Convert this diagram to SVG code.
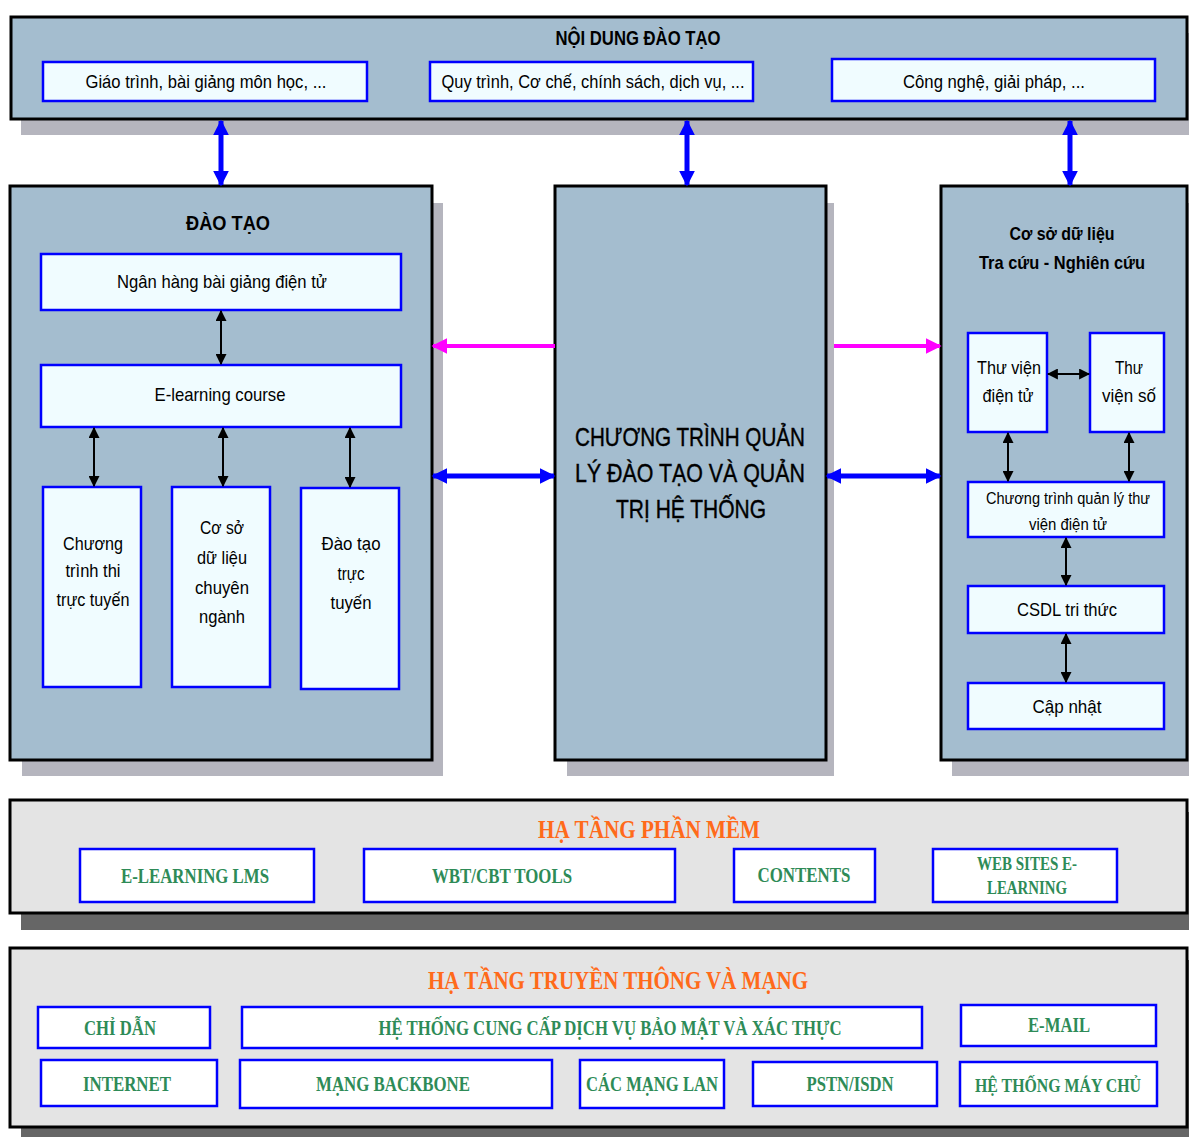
<svg xmlns="http://www.w3.org/2000/svg" width="1189" height="1137" viewBox="0 0 1189 1137">
<style>
.panel{fill:#a4bdcf;stroke:#000;stroke-width:3}
.shadow{fill:#b5b5be}
.dshadow{fill:#666}
.gpanel{fill:#e4e4e4;stroke:#000;stroke-width:3}
.box{fill:#f0fcff;stroke:#0000ff;stroke-width:2.5}
.wbox{fill:#fff;stroke:#0000ff;stroke-width:2.5}
.t{font-family:"Liberation Sans",Arial,sans-serif;fill:#000;text-anchor:middle}
.tb{font-family:"Liberation Sans",Arial,sans-serif;font-weight:bold;fill:#000;text-anchor:middle}
.ot{font-family:"Liberation Serif","Times New Roman",serif;font-weight:bold;fill:#ff6a1a;text-anchor:middle}
.gt{font-family:"Liberation Serif","Times New Roman",serif;font-weight:bold;fill:#2e8b57;text-anchor:middle}
.ba{stroke:#0000ff;stroke-width:5;fill:none}
.ka{stroke:#000;stroke-width:2;fill:none}
.ma{stroke:#ff00ff;stroke-width:4;fill:none}
</style>
<defs>
<marker id="hb" viewBox="0 0 10 10" refX="9" refY="5" markerWidth="16" markerHeight="16" markerUnits="userSpaceOnUse" orient="auto-start-reverse"><path d="M0,0 L10,5 L0,10 Z" fill="#0000ff"/></marker>
<marker id="hk" viewBox="0 0 10 10" refX="9" refY="5" markerWidth="11" markerHeight="11" markerUnits="userSpaceOnUse" orient="auto-start-reverse"><path d="M0,0 L10,5 L0,10 Z" fill="#000"/></marker>
<marker id="hm" viewBox="0 0 10 10" refX="9" refY="5" markerWidth="16" markerHeight="16" markerUnits="userSpaceOnUse" orient="auto-start-reverse"><path d="M0,0 L10,5 L0,10 Z" fill="#ff00ff"/></marker>
</defs>
<rect width="1189" height="1137" fill="#fff"/>

<g id="noi-dung">
<rect class="shadow" x="21" y="33" width="1176" height="102"/>
<rect class="panel" x="11" y="17" width="1176" height="102"/>
<text class="tb" x="638" y="45" font-size="20" textLength="165" lengthAdjust="spacingAndGlyphs">NỘI DUNG ĐÀO TẠO</text>
<g id="giao-trinh"><rect class="box" x="43" y="62" width="324" height="39"/>
<text class="t" x="206" y="88" font-size="19" textLength="241" lengthAdjust="spacingAndGlyphs">Giáo trình, bài giảng môn học, ...</text></g>
<g id="quy-trinh"><rect class="box" x="430" y="62" width="323" height="39"/>
<text class="t" x="593" y="88" font-size="19" textLength="303" lengthAdjust="spacingAndGlyphs">Quy trình, Cơ chế, chính sách, dịch vụ, ...</text></g>
<g id="cong-nghe"><rect class="box" x="832" y="59" width="323" height="42"/>
<text class="t" x="994" y="88" font-size="19" textLength="182" lengthAdjust="spacingAndGlyphs">Công nghệ, giải pháp, ...</text></g>
</g>

<g id="dao-tao">
<rect class="shadow" x="22" y="203" width="421" height="573"/>
<rect class="panel" x="10" y="186" width="422" height="574"/>
<text class="tb" x="228" y="230" font-size="21" textLength="84" lengthAdjust="spacingAndGlyphs">ĐÀO TẠO</text>
<g id="ngan-hang"><rect class="box" x="41" y="254" width="360" height="56"/>
<text class="t" x="222" y="288" font-size="19" textLength="210" lengthAdjust="spacingAndGlyphs">Ngân hàng bài giảng điện tử</text></g>
<g id="elearning-course"><rect class="box" x="41" y="365" width="360" height="62"/>
<text class="t" x="220" y="401" font-size="19" textLength="131" lengthAdjust="spacingAndGlyphs">E-learning course</text></g>
<g id="thi-truc-tuyen"><rect class="box" x="43" y="487" width="98" height="200"/>
<text class="t" font-size="19"><tspan x="93" y="550" textLength="60" lengthAdjust="spacingAndGlyphs">Chương</tspan><tspan x="93" y="577" textLength="55" lengthAdjust="spacingAndGlyphs">trình thi</tspan><tspan x="93" y="606" textLength="73" lengthAdjust="spacingAndGlyphs">trực tuyến</tspan></text></g>
<g id="csdl-chuyen-nganh"><rect class="box" x="172" y="487" width="98" height="200"/>
<text class="t" font-size="19"><tspan x="222" y="534" textLength="44" lengthAdjust="spacingAndGlyphs">Cơ sở</tspan><tspan x="222" y="564" textLength="50" lengthAdjust="spacingAndGlyphs">dữ liệu</tspan><tspan x="222" y="594" textLength="54" lengthAdjust="spacingAndGlyphs">chuyên</tspan><tspan x="222" y="623" textLength="46" lengthAdjust="spacingAndGlyphs">ngành</tspan></text></g>
<g id="dao-tao-truc-tuyen"><rect class="box" x="301" y="488" width="98" height="201"/>
<text class="t" font-size="19"><tspan x="351" y="550" textLength="59" lengthAdjust="spacingAndGlyphs">Đào tạo</tspan><tspan x="351" y="580" textLength="27" lengthAdjust="spacingAndGlyphs">trực</tspan><tspan x="351" y="609" textLength="41" lengthAdjust="spacingAndGlyphs">tuyến</tspan></text></g>
</g>

<g id="chuong-trinh-quan-ly">
<rect class="shadow" x="567" y="203" width="267" height="573"/>
<rect class="panel" x="555" y="186" width="271" height="574"/>
<text class="t" font-size="25" stroke="#000" stroke-width="0.4"><tspan x="690" y="446" textLength="230" lengthAdjust="spacingAndGlyphs">CHƯƠNG TRÌNH QUẢN</tspan><tspan x="690" y="482" textLength="230" lengthAdjust="spacingAndGlyphs">LÝ ĐÀO TẠO VÀ QUẢN</tspan><tspan x="691" y="518" textLength="150" lengthAdjust="spacingAndGlyphs">TRỊ HỆ THỐNG</tspan></text>
</g>

<g id="co-so-du-lieu">
<rect class="shadow" x="952" y="203" width="237" height="573"/>
<rect class="panel" x="941" y="186" width="246" height="574"/>
<text class="tb" font-size="19"><tspan x="1062" y="240" textLength="105" lengthAdjust="spacingAndGlyphs">Cơ sở dữ liệu</tspan><tspan x="1062" y="269" textLength="166" lengthAdjust="spacingAndGlyphs">Tra cứu - Nghiên cứu</tspan></text>
<g id="thu-vien-dien-tu"><rect class="box" x="968" y="333" width="79" height="99"/>
<text class="t" font-size="19"><tspan x="1009" y="374" textLength="64" lengthAdjust="spacingAndGlyphs">Thư viện</tspan><tspan x="1008" y="402" textLength="51" lengthAdjust="spacingAndGlyphs">điện tử</tspan></text></g>
<g id="thu-vien-so"><rect class="box" x="1090" y="333" width="74" height="99"/>
<text class="t" font-size="19"><tspan x="1129" y="374" textLength="28" lengthAdjust="spacingAndGlyphs">Thư</tspan><tspan x="1129" y="402" textLength="54" lengthAdjust="spacingAndGlyphs">viện số</tspan></text></g>
<g id="quan-ly-thu-vien"><rect class="box" x="968" y="482" width="196" height="55"/>
<text class="t" font-size="16"><tspan x="1068" y="504" textLength="164" lengthAdjust="spacingAndGlyphs">Chương trình quản lý thư</tspan><tspan x="1068" y="530" textLength="78" lengthAdjust="spacingAndGlyphs">viện điện tử</tspan></text></g>
<g id="csdl-tri-thuc"><rect class="box" x="968" y="586" width="196" height="47"/>
<text class="t" x="1067" y="616" font-size="19" textLength="100" lengthAdjust="spacingAndGlyphs">CSDL tri thức</text></g>
<g id="cap-nhat"><rect class="box" x="968" y="683" width="196" height="46"/>
<text class="t" x="1067" y="713" font-size="19" textLength="69" lengthAdjust="spacingAndGlyphs">Cập nhật</text></g>
</g>

<g id="ha-tang-phan-mem">
<rect class="dshadow" x="21" y="812" width="1176" height="118"/>
<rect class="gpanel" x="10" y="800" width="1177" height="113"/>
<text class="ot" x="649" y="838" font-size="25" textLength="222" lengthAdjust="spacingAndGlyphs">HẠ TẦNG PHẦN MỀM</text>
<g id="lms"><rect class="wbox" x="80" y="849" width="234" height="53"/>
<text class="gt" x="195" y="883" font-size="22" textLength="148" lengthAdjust="spacingAndGlyphs">E-LEARNING LMS</text></g>
<g id="wbt"><rect class="wbox" x="364" y="849" width="311" height="53"/>
<text class="gt" x="502" y="883" font-size="22" textLength="140" lengthAdjust="spacingAndGlyphs">WBT/CBT TOOLS</text></g>
<g id="contents"><rect class="wbox" x="734" y="849" width="141" height="53"/>
<text class="gt" x="804" y="882" font-size="22" textLength="93" lengthAdjust="spacingAndGlyphs">CONTENTS</text></g>
<g id="websites"><rect class="wbox" x="933" y="849" width="184" height="53"/>
<text class="gt" font-size="19"><tspan x="1027" y="870" textLength="100" lengthAdjust="spacingAndGlyphs">WEB SITES E-</tspan><tspan x="1027" y="894" textLength="80" lengthAdjust="spacingAndGlyphs">LEARNING</tspan></text></g>
</g>

<g id="ha-tang-mang">
<rect class="dshadow" x="21" y="960" width="1176" height="190"/>
<rect class="gpanel" x="10" y="948" width="1177" height="179"/>
<text class="ot" x="618" y="989" font-size="25" textLength="380" lengthAdjust="spacingAndGlyphs">HẠ TẦNG TRUYỀN THÔNG VÀ MẠNG</text>
<g id="chi-dan"><rect class="wbox" x="38" y="1007" width="172" height="41"/>
<text class="gt" x="120" y="1035" font-size="22" textLength="72" lengthAdjust="spacingAndGlyphs">CHỈ DẪN</text></g>
<g id="bao-mat"><rect class="wbox" x="242" y="1007" width="680" height="41"/>
<text class="gt" x="610" y="1035" font-size="22" textLength="463" lengthAdjust="spacingAndGlyphs">HỆ THỐNG CUNG CẤP DỊCH VỤ BẢO MẬT VÀ XÁC THỰC</text></g>
<g id="email"><rect class="wbox" x="961" y="1005" width="195" height="41"/>
<text class="gt" x="1059" y="1032" font-size="22" textLength="62" lengthAdjust="spacingAndGlyphs">E-MAIL</text></g>
<g id="internet"><rect class="wbox" x="41" y="1060" width="176" height="46"/>
<text class="gt" x="127" y="1091" font-size="22" textLength="88" lengthAdjust="spacingAndGlyphs">INTERNET</text></g>
<g id="backbone"><rect class="wbox" x="240" y="1060" width="312" height="48"/>
<text class="gt" x="393" y="1091" font-size="22" textLength="154" lengthAdjust="spacingAndGlyphs">MẠNG BACKBONE</text></g>
<g id="lan"><rect class="wbox" x="580" y="1060" width="144" height="48"/>
<text class="gt" x="652" y="1091" font-size="21" textLength="132" lengthAdjust="spacingAndGlyphs">CÁC MẠNG LAN</text></g>
<g id="pstn"><rect class="wbox" x="753" y="1062" width="184" height="44"/>
<text class="gt" x="850" y="1091" font-size="22" textLength="87" lengthAdjust="spacingAndGlyphs">PSTN/ISDN</text></g>
<g id="may-chu"><rect class="wbox" x="960" y="1062" width="197" height="44"/>
<text class="gt" x="1058" y="1092" font-size="19" textLength="166" lengthAdjust="spacingAndGlyphs">HỆ THỐNG MÁY CHỦ</text></g>
</g>

<g id="connectors">
<line class="ba" x1="221" y1="121" x2="221" y2="185" marker-start="url(#hb)" marker-end="url(#hb)"/>
<line class="ba" x1="687" y1="121" x2="687" y2="185" marker-start="url(#hb)" marker-end="url(#hb)"/>
<line class="ba" x1="1070" y1="121" x2="1070" y2="185" marker-start="url(#hb)" marker-end="url(#hb)"/>
<line class="ma" x1="555" y1="346" x2="433" y2="346" marker-end="url(#hm)"/>
<line class="ma" x1="834" y1="346" x2="940" y2="346" marker-end="url(#hm)"/>
<line class="ba" x1="433" y1="476" x2="554" y2="476" marker-start="url(#hb)" marker-end="url(#hb)"/>
<line class="ba" x1="827" y1="476" x2="940" y2="476" marker-start="url(#hb)" marker-end="url(#hb)"/>
<line class="ka" x1="221" y1="311" x2="221" y2="364" marker-start="url(#hk)" marker-end="url(#hk)"/>
<line class="ka" x1="94" y1="428" x2="94" y2="486" marker-start="url(#hk)" marker-end="url(#hk)"/>
<line class="ka" x1="223" y1="428" x2="223" y2="486" marker-start="url(#hk)" marker-end="url(#hk)"/>
<line class="ka" x1="350" y1="428" x2="350" y2="487" marker-start="url(#hk)" marker-end="url(#hk)"/>
<line class="ka" x1="1048" y1="374" x2="1089" y2="374" marker-start="url(#hk)" marker-end="url(#hk)"/>
<line class="ka" x1="1008" y1="433" x2="1008" y2="481" marker-start="url(#hk)" marker-end="url(#hk)"/>
<line class="ka" x1="1129" y1="433" x2="1129" y2="481" marker-start="url(#hk)" marker-end="url(#hk)"/>
<line class="ka" x1="1066" y1="538" x2="1066" y2="585" marker-start="url(#hk)" marker-end="url(#hk)"/>
<line class="ka" x1="1066" y1="634" x2="1066" y2="682" marker-start="url(#hk)" marker-end="url(#hk)"/>
</g>
</svg>
